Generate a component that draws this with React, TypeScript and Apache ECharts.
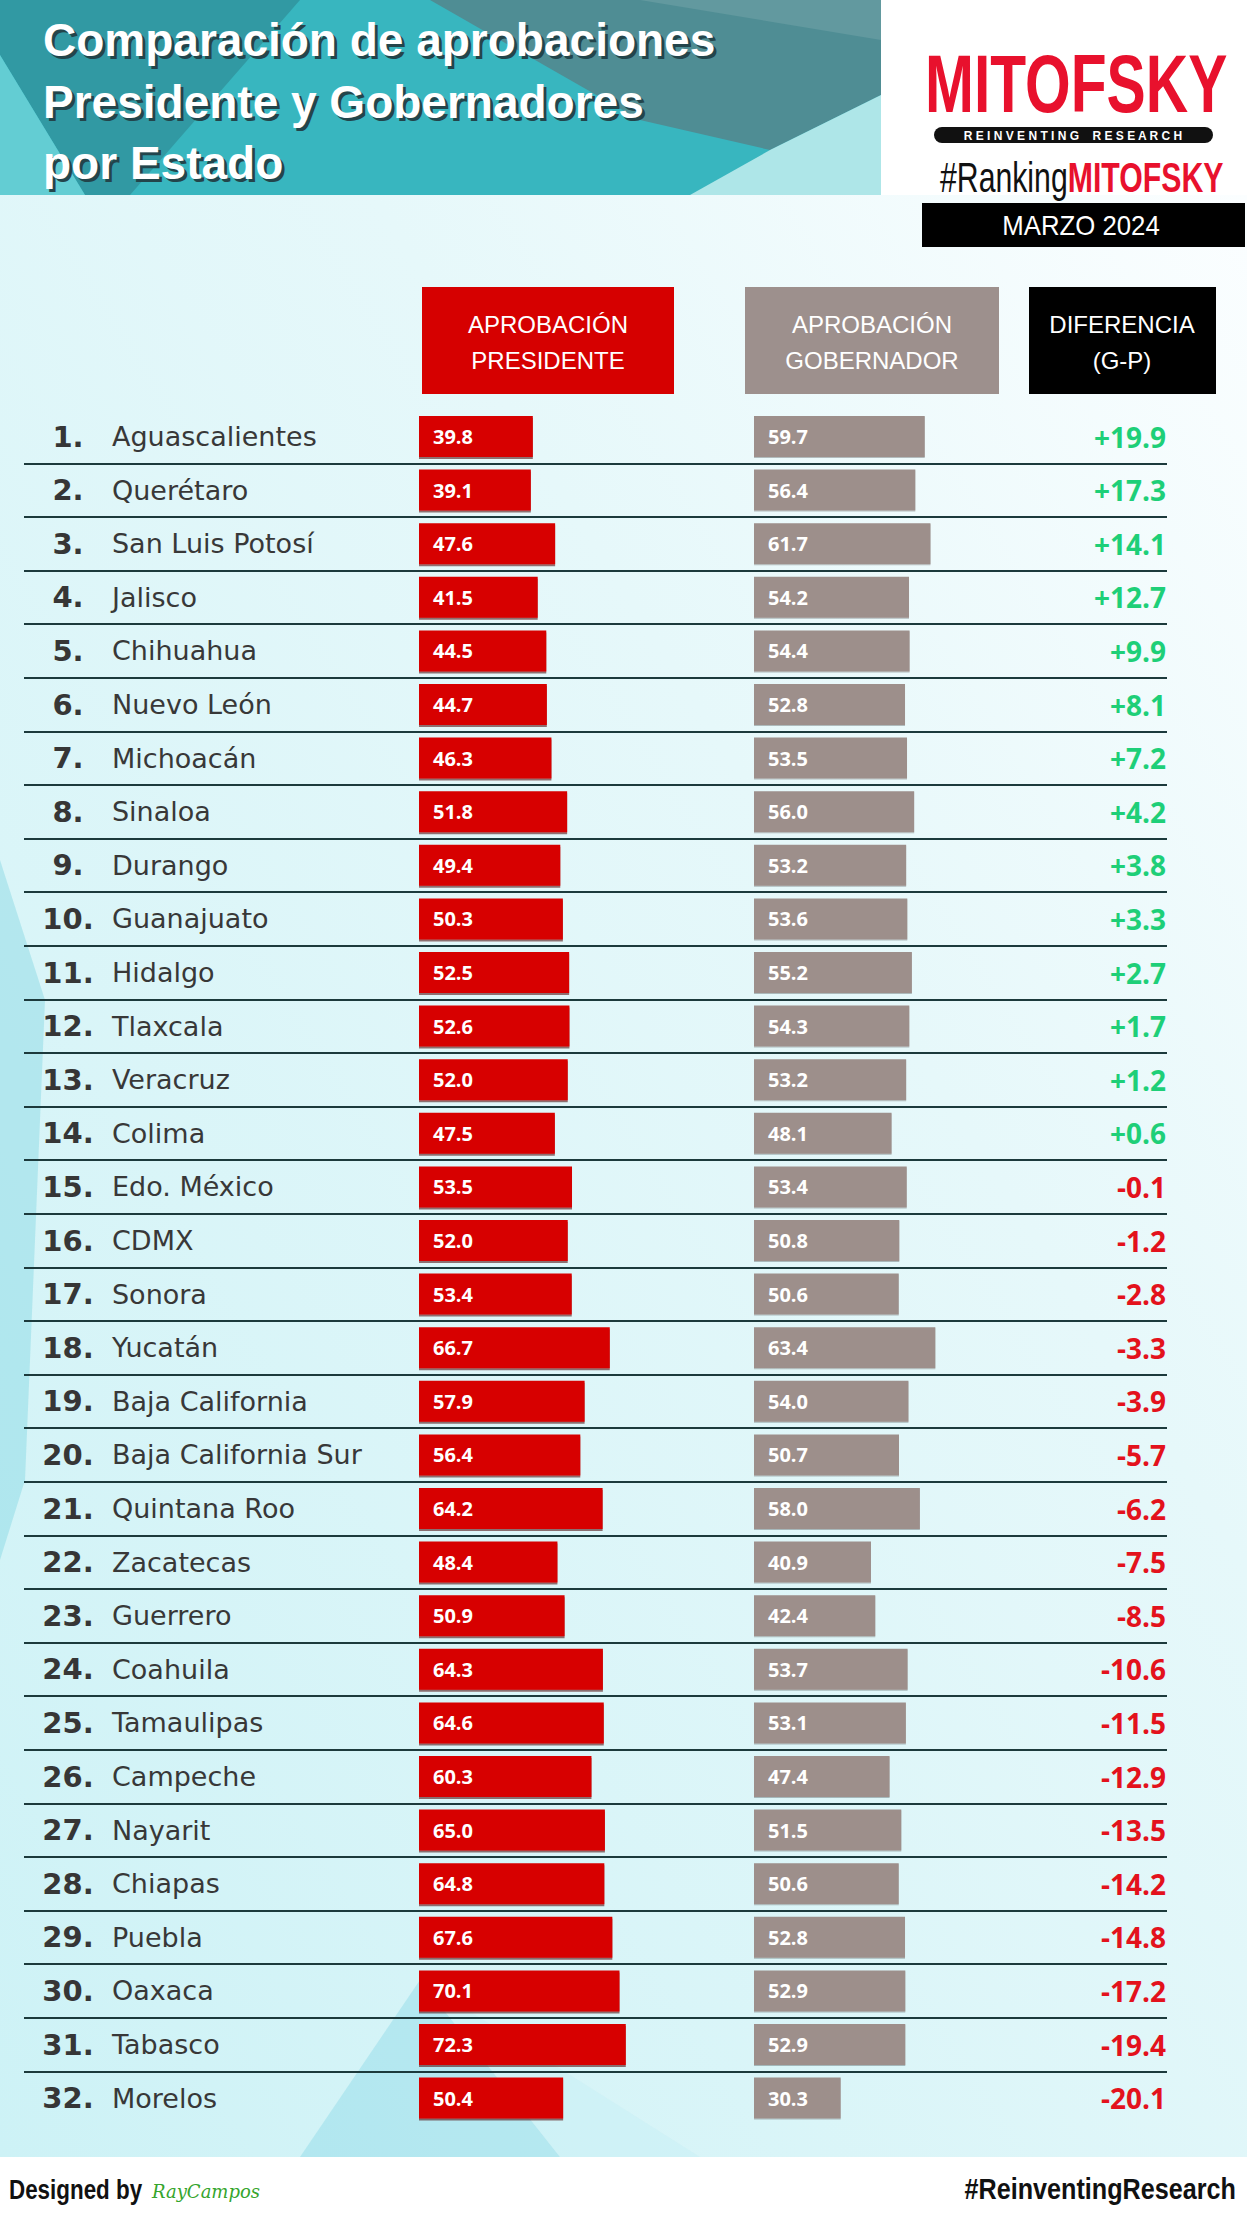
import React, { useEffect, useRef } from "react";
import * as echarts from "echarts";

const estados = [
  "Aguascalientes", "Querétaro", "San Luis Potosí", "Jalisco", "Chihuahua", "Nuevo León",
  "Michoacán", "Sinaloa", "Durango", "Guanajuato", "Hidalgo", "Tlaxcala", "Veracruz",
  "Colima", "Edo. México", "CDMX", "Sonora", "Yucatán", "Baja California",
  "Baja California Sur", "Quintana Roo", "Zacatecas", "Guerrero", "Coahuila", "Tamaulipas",
  "Campeche", "Nayarit", "Chiapas", "Puebla", "Oaxaca", "Tabasco", "Morelos",
];
const posiciones = [
  1, 2, 3, 4, 5, 6, 7, 8, 9, 10, 11, 12, 13, 14, 15, 16,
  17, 18, 19, 20, 21, 22, 23, 24, 25, 26, 27, 28, 29, 30, 31, 32,
];
const aprobacionPresidente = [
  39.8, 39.1, 47.6, 41.5, 44.5, 44.7, 46.3, 51.8, 49.4, 50.3, 52.5, 52.6, 52.0, 47.5, 53.5, 52.0,
  53.4, 66.7, 57.9, 56.4, 64.2, 48.4, 50.9, 64.3, 64.6, 60.3, 65.0, 64.8, 67.6, 70.1, 72.3, 50.4,
];
const aprobacionGobernador = [
  59.7, 56.4, 61.7, 54.2, 54.4, 52.8, 53.5, 56.0, 53.2, 53.6, 55.2, 54.3, 53.2, 48.1, 53.4, 50.8,
  50.6, 63.4, 54.0, 50.7, 58.0, 40.9, 42.4, 53.7, 53.1, 47.4, 51.5, 50.6, 52.8, 52.9, 52.9, 30.3,
];
const diferenciaGP = [
  19.9, 17.3, 14.1, 12.7, 9.9, 8.1, 7.2, 4.2, 3.8, 3.3, 2.7, 1.7, 1.2, 0.6, -0.1, -1.2,
  -2.8, -3.3, -3.9, -5.7, -6.2, -7.5, -8.5, -10.6, -11.5, -12.9, -13.5, -14.2, -14.8, -17.2, -19.4, -20.1,
];
const tituloLineas = ["Comparación de aprobaciones", "Presidente y Gobernadores", "por Estado"];
const encabezadoPresidente = "APROBACIÓN\nPRESIDENTE";
const encabezadoGobernador = "APROBACIÓN\nGOBERNADOR";
const encabezadoDiferencia = "DIFERENCIA\n(G-P)";
const fechaTexto = "MARZO 2024";

const W = 1247;
const H = 2217;
const ROW_TOP = 409.7;
const ROW_H = 53.6;
const N = estados.length;
const SCALE_MAX = 100;
const PX_PER_UNIT = 2.86;

function txt(x: number, y: number, text: string, font: string, fill: string, align = "left", vAlign = "middle", extra: any = {}) {
  return {
    type: "text",
    x,
    y,
    z: 30,
    ...extra,
    style: {
      text,
      font,
      fill,
      align,
      verticalAlign: vAlign,
      textAlign: align,
      textVerticalAlign: vAlign,
      ...(extra.style || {}),
    },
  };
}

export default function App() {
  const ref = useRef<HTMLDivElement>(null);
  useEffect(() => {
    document.body.style.margin = "0";
    const chart = echarts.init(ref.current!, null, { renderer: "svg" });

    const background: any[] = [
      {
        type: "rect", z: -20, shape: { x: 0, y: 0, width: W, height: H }, style: { fill: "#ffffff" },
      },
      {
        type: "rect", z: -19, shape: { x: 0, y: 195, width: W, height: 2157 - 195 },
        style: {
          fill: {
            type: "linear", x: 1, y: 0, x2: 0, y2: 1,
            colorStops: [
              { offset: 0, color: "#fbfeff" },
              { offset: 0.35, color: "#e6f8fa" },
              { offset: 1, color: "#cdf2f6" },
            ],
          },
        },
      },
      {
        type: "polygon", z: -18,
        shape: { points: [[0, 860], [45, 1000], [25, 1480], [0, 1560]] },
        style: { fill: "rgba(110,205,220,0.35)" },
      },
      {
        type: "polygon", z: -18,
        shape: { points: [[300, 2157], [420, 1980], [560, 2157]] },
        style: { fill: "rgba(120,210,225,0.35)" },
      },
      {
        type: "polygon", z: -18,
        shape: { points: [[420, 1980], [560, 2157], [700, 2157]] },
        style: { fill: "rgba(200,240,245,0.5)" },
      },
      // banner
      { type: "rect", z: -10, shape: { x: 0, y: 0, width: 881, height: 195 }, style: { fill: "#38b6bf" } },
      {
        type: "polygon", z: -9,
        shape: { points: [[0, 0], [300, 0], [130, 195], [85, 195], [0, 55]] },
        style: { fill: "#3199a3" },
      },
      {
        type: "polygon", z: -9,
        shape: { points: [[0, 55], [85, 195], [0, 195]] },
        style: { fill: "#63cdd3" },
      },
      {
        type: "polygon", z: -9,
        shape: { points: [[430, 0], [881, 0], [881, 95], [770, 150], [640, 120]] },
        style: { fill: "#4f8d94" },
      },
      {
        type: "polygon", z: -9,
        shape: { points: [[640, 0], [881, 0], [881, 40]] },
        style: { fill: "#62999f" },
      },
      {
        type: "polygon", z: -9,
        shape: { points: [[690, 195], [770, 150], [881, 95], [881, 195]] },
        style: { fill: "#aee6e8" },
      },
    ];

    const titleEls: any[] = [];
    const titleY = [40, 102, 163];
    tituloLineas.forEach((line, i) => {
      titleEls.push(txt(46, titleY[i] + 3, line, 'bold 46px "Liberation Sans"', "#23454b"));
      titleEls.push(txt(43, titleY[i], line, 'bold 46px "Liberation Sans"', "#ffffff"));
    });

    const logoEls: any[] = [
      txt(925, 84, "MITOFSKY", 'bold 81px "Liberation Sans"', "#e8112d", "left", "middle", { scaleX: 0.725 }),
      {
        type: "rect", z: 30, shape: { x: 934, y: 127, width: 279, height: 16, r: 8 }, style: { fill: "#111111" },
      },
      txt(1073, 135.5, "R E I N V E N T I N G    R E S E A R C H", 'bold 12px "Liberation Sans"', "#ffffff", "center", "middle", {}),
      {
        type: "text", x: 940, y: 178, z: 30, scaleX: 0.72,
        style: {
          text: "{a|#Ranking}{b|MITOFSKY}",
          align: "left", verticalAlign: "middle", textAlign: "left", textVerticalAlign: "middle",
          rich: {
            a: { fontSize: 42, fontFamily: "Liberation Sans", color: "#111111", fill: "#111111" },
            b: { fontSize: 42, fontFamily: "Liberation Sans", fontWeight: "bold", color: "#e8112d", fill: "#e8112d" },
          },
        },
      },
      { type: "rect", z: 30, shape: { x: 922, y: 203, width: 323, height: 44 }, style: { fill: "#000000" } },
      txt(1081, 226, fechaTexto, '28px "Liberation Sans"', "#ffffff", "center", "middle", { scaleX: 0.92 }),
    ];

    const headerEls: any[] = [
      { type: "rect", z: 30, shape: { x: 422, y: 287, width: 252, height: 107 }, style: { fill: "#d60000" } },
      { type: "rect", z: 30, shape: { x: 745, y: 287, width: 254, height: 107 }, style: { fill: "#9d908d" } },
      { type: "rect", z: 30, shape: { x: 1029, y: 287, width: 187, height: 107 }, style: { fill: "#000000" } },
      txt(548, 342, encabezadoPresidente, '24px "Liberation Sans"', "#ffffff", "center", "middle", { style: { lineHeight: 36 } }),
      txt(872, 342, encabezadoGobernador, '24px "Liberation Sans"', "#ffffff", "center", "middle", { style: { lineHeight: 36 } }),
      txt(1122, 342, encabezadoDiferencia, '24px "Liberation Sans"', "#ffffff", "center", "middle", { style: { lineHeight: 36 } }),
    ];

    const footerEls: any[] = [
      txt(9, 2189, "Designed by", 'bold 28px "Liberation Sans"', "#111111", "left", "middle", { scaleX: 0.8 }),
      txt(152, 2191, "RayCampos", 'italic 18px "DejaVu Serif"', "#35a52d", "left", "middle", {}),
      txt(1236, 2189, "#ReinventingResearch", 'bold 30px "Liberation Sans"', "#111111", "right", "middle", { scaleX: 0.84 }),
    ];

    const gridW = SCALE_MAX * PX_PER_UNIT;
    const gridH = N * ROW_H;

    const barLabel = {
      show: true,
      position: "insideLeft",
      distance: 14,
      formatter: (p: any) => Number(p.value).toFixed(1),
      color: "#ffffff",
      fontWeight: "bold",
      fontSize: 20,
      fontFamily: "Open Sans",
    };

    const option: any = {
      animation: false,
      backgroundColor: "transparent",
      graphic: { elements: [...background, ...titleEls, ...logoEls, ...headerEls, ...footerEls] },
      grid: [
        { left: 419, top: ROW_TOP, width: gridW, height: gridH },
        { left: 754, top: ROW_TOP, width: gridW, height: gridH },
        { left: 24, top: ROW_TOP + ROW_H, width: 1143, height: (N - 2) * ROW_H },
      ],
      xAxis: [
        { type: "value", gridIndex: 0, min: 0, max: SCALE_MAX, show: false },
        { type: "value", gridIndex: 1, min: 0, max: SCALE_MAX, show: false },
        { type: "value", gridIndex: 2, min: 0, max: 1, show: false },
      ],
      yAxis: [
        {
          type: "category", gridIndex: 0, data: estados, inverse: true,
          axisLine: { show: false }, axisTick: { show: false }, splitLine: { show: false },
          axisLabel: {
            interval: 0, align: "left", margin: 419 - 24,
            formatter: (v: string, i: number) => `{r|${posiciones[i]}.}{n|${v}}`,
            rich: {
              r: { width: 88, align: "center", fontSize: 29, fontWeight: "bold", fontFamily: "DejaVu Sans", color: "#363636" },
              n: { fontSize: 27, fontFamily: "DejaVu Sans", color: "#383838" },
            },
          },
        },
        {
          type: "category", gridIndex: 1, data: estados, inverse: true, position: "right",
          axisLine: { show: false }, axisTick: { show: false }, splitLine: { show: false },
          axisLabel: {
            interval: 0, align: "right", margin: 1166 - (754 + gridW),
            formatter: (_v: string, i: number) => {
              const d = diferenciaGP[i];
              return d > 0 ? `{p|+${d.toFixed(1)}}` : `{m|${d.toFixed(1)}}`;
            },
            rich: {
              p: { fontSize: 28, fontFamily: "Open Sans", fontWeight: "bold", color: "#1ecf78" },
              m: { fontSize: 28, fontFamily: "Open Sans", fontWeight: "bold", color: "#e3121c" },
            },
          },
        },
        {
          type: "value", gridIndex: 2, min: 1, max: N - 1, interval: 1,
          axisLine: { show: false }, axisTick: { show: false }, axisLabel: { show: false },
          splitLine: { show: true, lineStyle: { color: "#1c3a3c", width: 2 } },
        },
      ],
      series: [
        {
          type: "bar", name: "Aprobación Presidente", xAxisIndex: 0, yAxisIndex: 0,
          data: aprobacionPresidente, barWidth: 41,
          itemStyle: { color: "#d70000", shadowColor: "rgba(70,0,0,0.55)", shadowOffsetY: 2, shadowBlur: 1 },
          label: barLabel,
        },
        {
          type: "bar", name: "Aprobación Gobernador", xAxisIndex: 1, yAxisIndex: 1,
          data: aprobacionGobernador, barWidth: 41,
          itemStyle: { color: "#9d8f8b", shadowColor: "rgba(0,0,0,0.25)", shadowOffsetY: 1, shadowBlur: 1 },
          label: barLabel,
        },
        { type: "line", xAxisIndex: 2, yAxisIndex: 2, data: [], silent: true },
      ],
    };

    chart.setOption(option);
    return () => chart.dispose();
  }, []);
  return <div ref={ref} style={{ width: W, height: H }} />;
}
